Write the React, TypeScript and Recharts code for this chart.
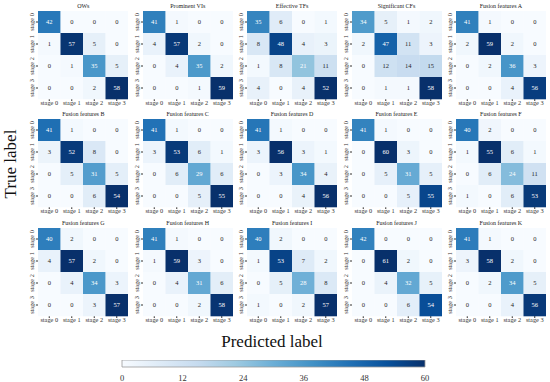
import React from 'react';
import { ScatterChart, Scatter, XAxis, YAxis, ReferenceArea } from 'recharts';

const stageLabels = ['stage 0', 'stage 1', 'stage 2', 'stage 3'];
const stageIndex = [0, 1, 2, 3];

const panelTitles = [
  'OWs', 'Prominent VIs', 'Effective TFs', 'Significant CFs', 'Fusion features A',
  'Fusion features B', 'Fusion features C', 'Fusion features D', 'Fusion features E', 'Fusion features F',
  'Fusion features G', 'Fusion features H', 'Fusion features I', 'Fusion features J', 'Fusion features K',
];

const owsMatrix = [[42, 0, 0, 0], [1, 57, 5, 0], [0, 1, 35, 5], [0, 0, 2, 58]];
const prominentVIsMatrix = [[41, 1, 0, 0], [4, 57, 2, 0], [0, 4, 35, 2], [0, 0, 1, 59]];
const effectiveTFsMatrix = [[35, 6, 0, 1], [8, 48, 4, 3], [1, 8, 21, 11], [4, 0, 4, 52]];
const significantCFsMatrix = [[34, 5, 1, 2], [2, 47, 11, 3], [0, 12, 14, 15], [0, 1, 1, 58]];
const fusionAMatrix = [[41, 1, 0, 0], [2, 59, 2, 0], [0, 2, 36, 3], [0, 0, 4, 56]];
const fusionBMatrix = [[41, 1, 0, 0], [3, 52, 8, 0], [0, 5, 31, 5], [0, 0, 6, 54]];
const fusionCMatrix = [[41, 1, 0, 0], [3, 53, 6, 1], [0, 6, 29, 6], [0, 0, 5, 55]];
const fusionDMatrix = [[41, 1, 0, 0], [3, 56, 3, 1], [0, 3, 34, 4], [0, 0, 4, 56]];
const fusionEMatrix = [[41, 1, 0, 0], [0, 60, 3, 0], [0, 5, 31, 5], [0, 0, 5, 55]];
const fusionFMatrix = [[40, 2, 0, 0], [1, 55, 6, 1], [0, 6, 24, 11], [1, 0, 6, 53]];
const fusionGMatrix = [[40, 2, 0, 0], [4, 57, 2, 0], [0, 4, 34, 3], [0, 0, 3, 57]];
const fusionHMatrix = [[41, 1, 0, 0], [1, 59, 3, 0], [0, 4, 31, 6], [0, 0, 2, 58]];
const fusionIMatrix = [[40, 2, 0, 0], [1, 53, 7, 2], [0, 5, 28, 8], [1, 0, 2, 57]];
const fusionJMatrix = [[42, 0, 0, 0], [0, 61, 2, 0], [0, 4, 32, 5], [0, 0, 6, 54]];
const fusionKMatrix = [[41, 1, 0, 0], [3, 58, 2, 0], [0, 2, 34, 5], [0, 0, 4, 56]];

const panelMatrices = [
  owsMatrix, prominentVIsMatrix, effectiveTFsMatrix, significantCFsMatrix, fusionAMatrix,
  fusionBMatrix, fusionCMatrix, fusionDMatrix, fusionEMatrix, fusionFMatrix,
  fusionGMatrix, fusionHMatrix, fusionIMatrix, fusionJMatrix, fusionKMatrix,
];

const colorbarTicks = [0, 12, 24, 36, 48, 60];

const FONT = '"Liberation Serif", "Times New Roman", serif';
const BLUES = ['#f7fbff', '#deebf7', '#c6dbef', '#9ecae1', '#6baed6', '#4292c6', '#2171b5', '#08519c', '#08306b'];

function hexToRgb(h: string): number[] {
  return [parseInt(h.slice(1, 3), 16), parseInt(h.slice(3, 5), 16), parseInt(h.slice(5, 7), 16)];
}
const BLUES_RGB = BLUES.map(hexToRgb);

function bluesRgb(t: number): number[] {
  const c = Math.max(0, Math.min(1, t));
  const pos = c * (BLUES_RGB.length - 1);
  const i = Math.min(Math.floor(pos), BLUES_RGB.length - 2);
  const f = pos - i;
  const a = BLUES_RGB[i];
  const b = BLUES_RGB[i + 1];
  return [0, 1, 2].map((k) => Math.round(a[k] + (b[k] - a[k]) * f));
}
function rgbCss(c: number[]) {
  return `rgb(${c[0]},${c[1]},${c[2]})`;
}
function luminance(c: number[]) {
  const lin = c.map((v) => {
    const s = v / 255;
    return s <= 0.03928 ? s / 12.92 : Math.pow((s + 0.055) / 1.055, 2.4);
  });
  return 0.2126 * lin[0] + 0.7152 * lin[1] + 0.0722 * lin[2];
}

const COL_LEFT0 = 38.3;
const COL_STEP = 104.4;
const ROW_TOP0 = 10.7;
const ROW_STEP = 108.5;
const PLOT_W = 90;
const PLOT_H = 88;
const Y_AXIS_W = 14;
const X_AXIS_H = 12;
const CELL_W = PLOT_W / 4;
const CELL_H = PLOT_H / 4;

function YTick(props: any) {
  const { x, y, payload } = props;
  return (
    <text
      x={x}
      y={y}
      transform={`rotate(-90 ${x} ${y})`}
      textAnchor="middle"
      fontSize={6.3}
      fill="#333"
      fontFamily={FONT}
    >
      {stageLabels[payload.value]}
    </text>
  );
}

function MatrixPanel({ matrix, title, col, row }: any) {
  const maxV = Math.max(...matrix.flat());
  const data: any[] = [];
  matrix.forEach((r: number[], ri: number) => r.forEach((v: number, ci: number) => data.push({ x: ci, y: ri, v })));
  const plotLeft = COL_LEFT0 + col * COL_STEP;
  const top = ROW_TOP0 + row * ROW_STEP;
  const shape = (p: any) => {
    const { cx, cy, payload } = p;
    const rgb = bluesRgb(payload.v / maxV);
    const textColor = luminance(rgb) < 0.6 ? '#ffffff' : '#262626';
    return (
      <g>
        <rect x={cx - CELL_W / 2} y={cy - CELL_H / 2} width={CELL_W + 0.3} height={CELL_H + 0.3} fill={rgbCss(rgb)} />
        <text x={cx} y={cy} dy="0.35em" textAnchor="middle" fontSize={6.5} fontFamily={FONT} fill={textColor}>
          {payload.v}
        </text>
      </g>
    );
  };
  return (
    <>
      <div
        style={{
          position: 'absolute', left: plotLeft, top: top - 10, width: PLOT_W, height: 10,
          lineHeight: '10px', fontSize: 6, fontFamily: FONT, textAlign: 'center', color: '#222', whiteSpace: 'nowrap',
        }}
      >
        {title}
      </div>
      <div style={{ position: 'absolute', left: plotLeft - Y_AXIS_W, top }}>
        <ScatterChart width={Y_AXIS_W + PLOT_W} height={PLOT_H + X_AXIS_H} margin={{ top: 0, right: 0, bottom: 0, left: 0 }}>
          <XAxis
            type="number" dataKey="x" domain={[-0.5, 3.5]} ticks={stageIndex} interval={0}
            tickFormatter={(v: number) => stageLabels[v]} height={X_AXIS_H} axisLine={false}
            tickSize={2} tickMargin={0} stroke="#333"
            tick={{ fontSize: 6.3, fill: '#333', fontFamily: FONT }}
          />
          <YAxis
            type="number" dataKey="y" domain={[-0.5, 3.5]} reversed ticks={stageIndex} interval={0}
            width={Y_AXIS_W} axisLine={false} tickSize={2} stroke="#333" tick={<YTick />}
          />
          <Scatter data={data} shape={shape} isAnimationActive={false} />
        </ScatterChart>
      </div>
    </>
  );
}

export default function App() {
  const cbData = colorbarTicks.map((v) => ({ v, y: 0.5 }));
  return (
    <div style={{ position: 'absolute', left: 0, top: 0, width: 550, height: 382, background: '#fff', overflow: 'hidden' }}>
      {panelMatrices.map((m, i) => (
        <MatrixPanel key={i} matrix={m} title={panelTitles[i]} col={i % 5} row={Math.floor(i / 5)} />
      ))}
      <div
        style={{
          position: 'absolute', left: 11 - 60, top: 164 - 10, width: 120, height: 20, lineHeight: '20px',
          fontSize: 17, fontFamily: FONT, textAlign: 'center', transform: 'rotate(-90deg)', color: '#111',
        }}
      >
        True label
      </div>
      <div
        style={{
          position: 'absolute', left: 172, top: 342 - 10, width: 200, height: 20, lineHeight: '20px',
          fontSize: 17, fontFamily: FONT, textAlign: 'center', color: '#111',
        }}
      >
        Predicted label
      </div>
      <div style={{ position: 'absolute', left: 112, top: 360 }}>
        <ScatterChart width={323} height={22} margin={{ top: 0, right: 10, bottom: 0, left: 10 }}>
          <defs>
            <linearGradient id="bluesBar" x1="0" y1="0" x2="1" y2="0">
              {BLUES.map((c, i) => (
                <stop key={i} offset={i / (BLUES.length - 1)} stopColor={c} />
              ))}
            </linearGradient>
          </defs>
          <XAxis
            type="number" dataKey="v" domain={[0, 60]} ticks={colorbarTicks} interval={0}
            height={15} axisLine={false} tickLine={false} tickMargin={2}
            tick={{ fontSize: 8.5, fill: '#333', fontFamily: FONT }}
          />
          <YAxis type="number" dataKey="y" domain={[0, 1]} hide />
          <ReferenceArea x1={0} x2={60} y1={0} y2={1} fill="url(#bluesBar)" fillOpacity={1} stroke="#999" strokeWidth={0.8} />
          <Scatter data={cbData} shape={() => <g />} isAnimationActive={false} />
        </ScatterChart>
      </div>
    </div>
  );
}
